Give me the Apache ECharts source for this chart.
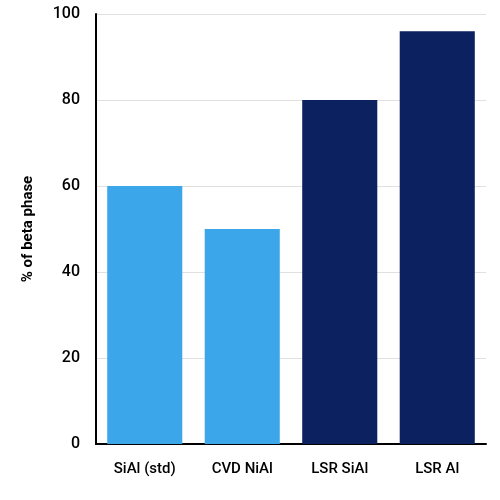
<!DOCTYPE html>
<html>
<head>
<meta charset="utf-8">
<script src="https://cdn.jsdelivr.net/npm/echarts@6/dist/echarts.min.js"></script>
<style>html,body{margin:0;padding:0;background:#fff}</style>
</head>
<body>
<div id="chart" style="width:500px;height:500px;"></div>
<script>
    var categories = ['SiAl (std)', 'CVD NiAl', 'LSR SiAl', 'LSR Al'];
    var betaPhase = [60, 50, 80, 96];
    var barColors = ['#3ba7ea', '#3ba7ea', '#0b2160', '#0b2160'];

    var chart = echarts.init(document.getElementById('chart'));
    chart.setOption({
        animation: false,
        grid: {left: 96, right: 14, top: 14, bottom: 56},
        xAxis: {
            type: 'category',
            data: categories,
            axisLine: {lineStyle: {color: '#000', width: 2}},
            axisTick: {show: false},
            axisLabel: {color: '#000', fontFamily: 'Roboto', fontWeight: 500, fontSize: 15, margin: 18}
        },
        yAxis: {
            type: 'value',
            min: 0, max: 100, interval: 20,
            name: '% of beta phase',
            nameLocation: 'middle',
            nameGap: 60,
            nameTextStyle: {color: '#000', fontFamily: 'Roboto', fontWeight: 'bold', fontSize: 15},
            axisLine: {show: true, lineStyle: {color: '#000', width: 2}},
            axisLabel: {color: '#000', fontFamily: 'Roboto', fontWeight: 500, fontSize: 16, margin: 16},
            splitLine: {lineStyle: {color: '#e0e0e0'}}
        },
        series: [{
            type: 'bar',
            barWidth: '77%',
            data: betaPhase.map(function (v, i) {
                return {value: v, itemStyle: {color: barColors[i]}};
            })
        }]
    });
</script>
</body>
</html>
